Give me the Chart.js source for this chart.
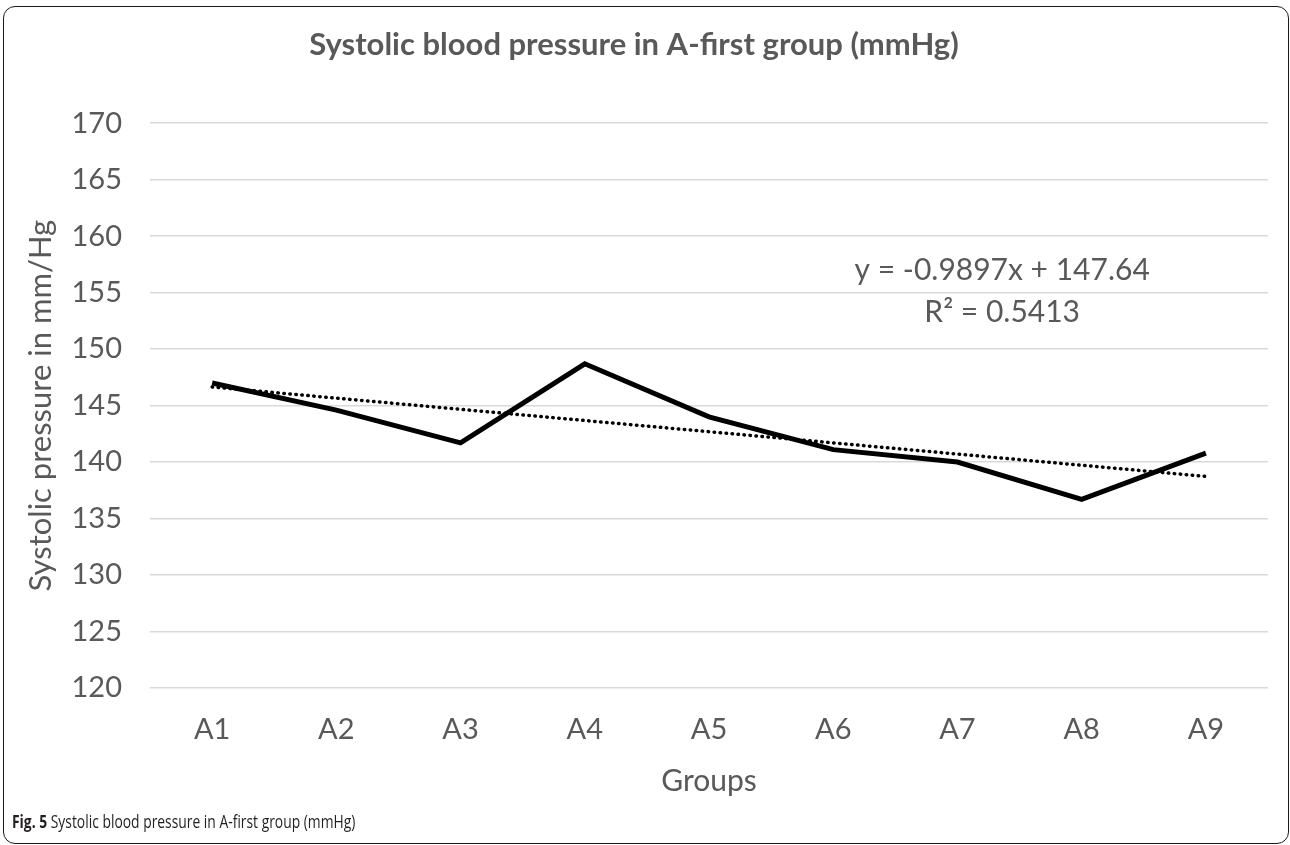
<!DOCTYPE html>
<html>
<head>
<meta charset="utf-8">
<title>Systolic blood pressure in A-first group</title>
<script src="https://cdn.jsdelivr.net/npm/chart.js@4"></script>
<style>
  html, body { margin: 0; padding: 0; background: #fff; }
  #wrap { position: relative; width: 1290px; height: 845px; overflow: hidden; }
  #chart { position: absolute; left: 0; top: 0; }
  #frame { position: absolute; left: 3px; top: 6px; width: 1286px; height: 838px;
    box-sizing: border-box; border: 1.5px solid #1a1a1a; border-radius: 12px; pointer-events: none; }
  #caption { position: absolute; left: 12px; top: 809px; font-family: 'Open Sans', sans-serif;
    font-size: 18px; color: #231f20; white-space: nowrap; transform: scaleX(0.77); transform-origin: left top; }
  #caption b { font-weight: 700; }
</style>
</head>
<body>
<div id="wrap">
  <canvas id="chart" width="1290" height="845"></canvas>
  <div id="frame"></div>
  <div id="caption"><b>Fig. 5</b> Systolic blood pressure in A-first group (mmHg)</div>
</div>
<script>
'use strict';

// ******** DATA **************
let groups = ['A1', 'A2', 'A3', 'A4', 'A5', 'A6', 'A7', 'A8', 'A9'];
let systolic = [147.0, 144.6, 141.7, 148.7, 144.0, 141.1, 140.0, 136.7, 140.8];
// linear trendline, only its two ends (gap in between is spanned)
let trendline = [146.65, null, null, null, null, null, null, null, 138.73];
let yMin = 120;
let yMax = 170;
let yStep = 5;
let equationLines = ['y = -0.9897x + 147.64', 'R\u00B2 = 0.5413'];

// ********* STYLE ****************
let textColor = '#595959';
let fontName = 'Lato, Calibri, sans-serif';

// draws the trendline label next to the dotted line
let equationLabel = {
  id: 'equationLabel',
  afterDatasetsDraw(chart){
    let ctx = chart.ctx;
    let x = chart.scales.x.getPixelForValue(6.36);
    ctx.save();
    ctx.font = '30px ' + fontName;
    ctx.fillStyle = textColor;
    ctx.textAlign = 'center';
    ctx.textBaseline = 'middle';
    ctx.fillText(equationLines[0], x, chart.scales.y.getPixelForValue(157.0));
    ctx.fillText(equationLines[1], x, chart.scales.y.getPixelForValue(153.3));
    ctx.restore();
  }
};

let chartSettings = {
  type: 'line',
  data: {
    labels: groups,
    datasets: [{
      label: 'Systolic pressure',
      data: systolic,
      borderColor: '#000000',
      borderWidth: 5,
      pointRadius: 0,
      tension: 0,
      fill: false
    },
    {
      label: 'Linear trend',
      data: trendline,
      borderColor: '#000000',
      borderWidth: 3.5,
      borderDash: [0.5, 5.5],
      borderCapStyle: 'round',
      pointRadius: 0,
      spanGaps: true,
      fill: false
    }]
  },
  options: {
    responsive: false,
    animation: false,
    layout: {
      padding: { left: 0, right: 22, top: 0, bottom: 0 }
    },
    plugins: {
      legend: { display: false },
      tooltip: { enabled: false },
      title: {
        display: true,
        text: 'Systolic blood pressure in A-first group (mmHg)',
        color: textColor,
        font: { family: fontName, size: 31, weight: 'bold' },
        padding: { top: 26, bottom: 60 }
      }
    },
    scales: {
      x: {
        offset: true,
        grid: { display: false, drawTicks: false },
        border: { display: false },
        ticks: { color: textColor, font: { family: fontName, size: 29 }, padding: 24 },
        title: {
          display: true,
          text: 'Groups',
          color: textColor,
          font: { family: fontName, size: 30 },
          padding: { top: 0, bottom: 46 }
        },
        afterFit(scale){
          scale.height = 157;
        }
      },
      y: {
        min: yMin,
        max: yMax,
        grid: { color: '#d9d9d9', lineWidth: 1.5, drawTicks: false },
        border: { display: false },
        ticks: { stepSize: yStep, color: textColor, font: { family: fontName, size: 29 }, padding: 28 },
        title: {
          display: true,
          text: 'Systolic pressure in mm/Hg',
          color: textColor,
          font: { family: fontName, size: 31 },
          padding: { top: 22, bottom: 0 }
        },
        afterFit(scale){
          scale.width = 150;
        }
      }
    }
  },
  plugins: [equationLabel]
};

new Chart(document.getElementById('chart'), chartSettings);
</script>
</body>
</html>
